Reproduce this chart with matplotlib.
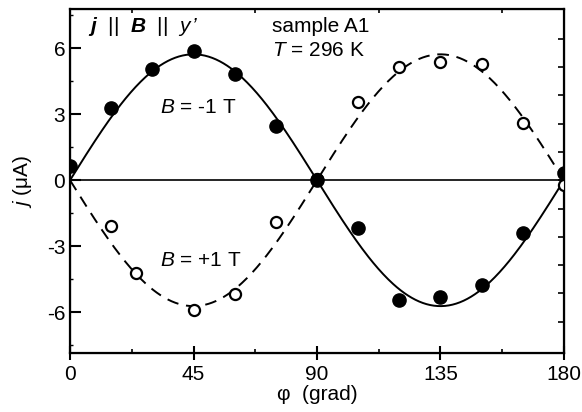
import numpy as np
import matplotlib.pyplot as plt
from matplotlib.ticker import MultipleLocator, FixedLocator

plt.rcParams['font.family'] = ['Liberation Sans', 'DejaVu Sans']
plt.rcParams['mathtext.fontset'] = 'custom'
plt.rcParams['mathtext.rm'] = 'Liberation Sans'
plt.rcParams['mathtext.it'] = 'Liberation Sans:italic'
plt.rcParams['mathtext.bf'] = 'Liberation Sans:bold:italic'

# B = -1 T (filled)
phi_neg = [0, 15, 30, 45, 60, 75, 90, 105, 120, 135, 150, 165, 180]
j_neg = [0.65, 3.3, 5.07, 5.86, 4.81, 2.48, 0.0, -2.15, -5.44, -5.31, -4.78, -2.39, 0.33]

# B = +1 T (open)
phi_pos = [15, 24, 45, 60, 75, 90, 105, 120, 135, 150, 165, 180]
j_pos = [-2.09, -4.2, -5.9, -5.19, -1.89, 0.05, 3.55, 5.14, 5.37, 5.29, 2.6, -0.2]

# fit amplitudes (j = A sin 2phi)
amp_neg = 5.72
amp_pos = -5.72

fig = plt.figure(figsize=(5.82, 4.12), dpi=100)
ax = fig.add_axes([0.1203, 0.1432, 0.8487, 0.835])

phi = np.linspace(0, 180, 400)
ax.axhline(0, color='black', lw=1.2, zorder=1)
ax.plot(phi, amp_neg * np.sin(np.radians(2 * phi)), color='black', lw=1.4, zorder=2)
ax.plot(phi, amp_pos * np.sin(np.radians(2 * phi)), color='black', lw=1.4,
        dashes=(6, 4), zorder=2)
ax.plot(phi_pos, j_pos, 'o', ms=8, mfc='white', mec='black', mew=1.6, zorder=3)
ax.plot(phi_neg, j_neg, 'o', ms=9.5, mfc='black', mec='black', zorder=4)

ax.set_xlim(0, 180)
ax.set_ylim(-7.85, 7.78)
ax.set_xticks([0, 45, 90, 135, 180])
ax.set_yticks([-6, -3, 0, 3, 6])
ax.xaxis.set_minor_locator(MultipleLocator(22.5))
ax.yaxis.set_minor_locator(MultipleLocator(1.5))
ax.tick_params(axis='both', which='major', labelsize=15, width=1.5)
ax.tick_params(axis='x', which='major', direction='inout', length=10, top=False)
ax.tick_params(axis='x', which='minor', direction='in', length=3, width=1.2, top=True)
ax.tick_params(axis='y', which='major', direction='in', length=8)
ax.tick_params(axis='y', which='minor', direction='in', length=2, width=1)
ax.set_yticklabels(['-6', '-3', '0', '3', '6'])

for s in ax.spines.values():
    s.set_linewidth(1.6)

# right-hand ticks
ax2 = ax.twinx()
ax2.set_ylim(ax.get_ylim())
ax2.yaxis.set_major_locator(FixedLocator(np.arange(-5, 6) * 1.285))
ax2.tick_params(axis='y', direction='in', length=4, width=1.2, labelright=False)
ax2.yaxis.set_minor_locator(FixedLocator([]))

ax.set_xlabel('φ  (grad)', fontsize=15, labelpad=1)
ax.set_ylabel('$j$ (μA)', fontsize=15, labelpad=9)

ax.text(0.036, 0.95, r"$\mathbf{j}$  ||  $\mathbf{B}$  ||  $y$", transform=ax.transAxes,
        fontsize=15, va='center', ha='left')
ax.text(0.246, 0.95, "\u2019", transform=ax.transAxes, fontsize=15, va='center',
        ha='left', style='italic')
ax.text(0.409, 0.95, 'sample A1', transform=ax.transAxes, fontsize=15, va='center')
ax.text(0.409, 0.88, '$T$ = 296 K', transform=ax.transAxes, fontsize=15, va='center')
ax.text(0.183, 0.715, '$B$ = -1 T', transform=ax.transAxes, fontsize=15, va='center')
ax.text(0.183, 0.27, '$B$ = +1 T', transform=ax.transAxes, fontsize=15, va='center')

fig.savefig('out.png', dpi=100)
